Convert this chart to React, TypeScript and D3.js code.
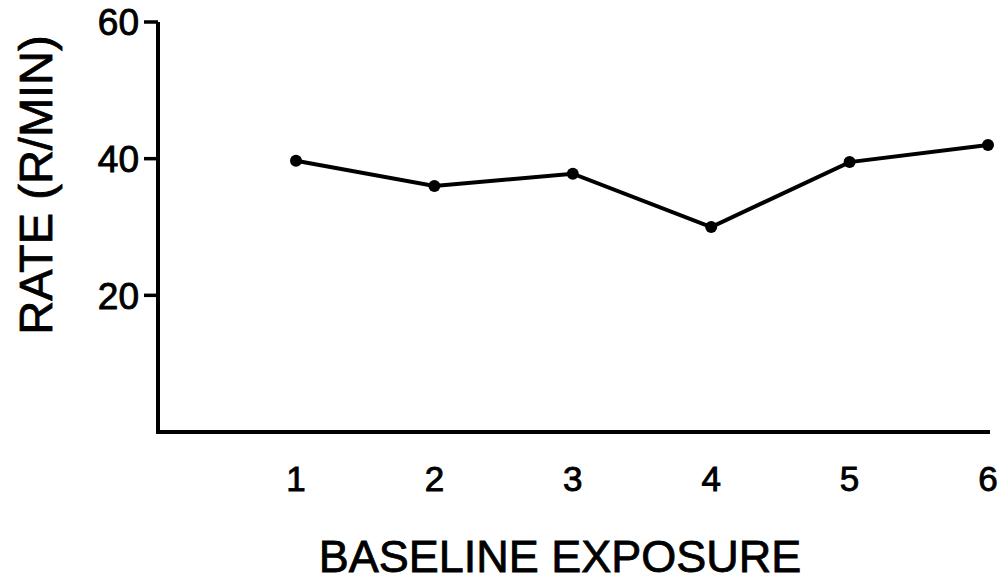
import React, { useEffect, useRef } from "react";
import * as d3 from "d3";

// baseline exposure sessions and response rates
const sessions = [1, 2, 3, 4, 5, 6];
const rates = [39.7, 36, 37.8, 30, 39.5, 42];
const yTicks = [20, 40, 60];

const W = 1002;
const H = 585;

const App = () => {
  const ref = useRef<SVGSVGElement>(null);

  useEffect(() => {
    const svg = d3.select(ref.current);
    svg.selectAll("*").remove();

    const font = "'Liberation Sans', Arial, sans-serif";
    const x = d3.scaleLinear().domain([1, 6]).range([296, 988]);
    const y = d3.scaleLinear().domain([0, 60]).range([432, 22]);
    const axisX = 158;

    // axes
    svg
      .append("path")
      .attr("d", `M${axisX},${y(60)} V${y(0)} H990`)
      .attr("fill", "none")
      .attr("stroke", "#000")
      .attr("stroke-width", 4);

    const ticks = svg.append("g");
    ticks
      .selectAll("line")
      .data(yTicks)
      .join("line")
      .attr("x1", axisX - 14)
      .attr("x2", axisX)
      .attr("y1", (d) => y(d))
      .attr("y2", (d) => y(d))
      .attr("stroke", "#000")
      .attr("stroke-width", 3.5);

    ticks
      .selectAll("text")
      .data(yTicks)
      .join("text")
      .attr("x", axisX - 19)
      .attr("y", (d) => y(d))
      .attr("dy", "0.36em")
      .attr("text-anchor", "end")
      .style("font-family", font)
      .style("font-size", "37px")
      .attr("stroke", "#000")
      .attr("stroke-width", 0.9)
      .text((d) => d);

    svg
      .append("g")
      .selectAll("text")
      .data(sessions)
      .join("text")
      .attr("x", (d) => x(d))
      .attr("y", 491)
      .attr("text-anchor", "middle")
      .style("font-family", font)
      .style("font-size", "35px")
      .attr("stroke", "#000")
      .attr("stroke-width", 0.9)
      .text((d) => d);

    // series
    const pts = sessions.map((s, i) => [x(s), y(rates[i])] as [number, number]);
    svg
      .append("path")
      .attr("d", d3.line()(pts))
      .attr("fill", "none")
      .attr("stroke", "#000")
      .attr("stroke-width", 4);

    svg
      .append("g")
      .selectAll("circle")
      .data(pts)
      .join("circle")
      .attr("cx", (d) => d[0])
      .attr("cy", (d) => d[1])
      .attr("r", 6);

    // axis titles
    svg
      .append("text")
      .attr("x", 560)
      .attr("y", 572)
      .attr("text-anchor", "middle")
      .style("font-family", font)
      .style("font-size", "45px")
      .attr("stroke", "#000")
      .attr("stroke-width", 0.8)
      .text("BASELINE EXPOSURE");

    svg
      .append("text")
      .attr("transform", "translate(52,185) rotate(-90)")
      .attr("text-anchor", "middle")
      .style("font-family", font)
      .style("font-size", "47px")
      .attr("stroke", "#000")
      .attr("stroke-width", 0.8)
      .text("RATE (R/MIN)");
  }, []);

  return (
    <svg
      ref={ref}
      width={W}
      height={H}
      style={{ position: "absolute", left: 0, top: 0, background: "#fff" }}
    />
  );
};

export default App;
